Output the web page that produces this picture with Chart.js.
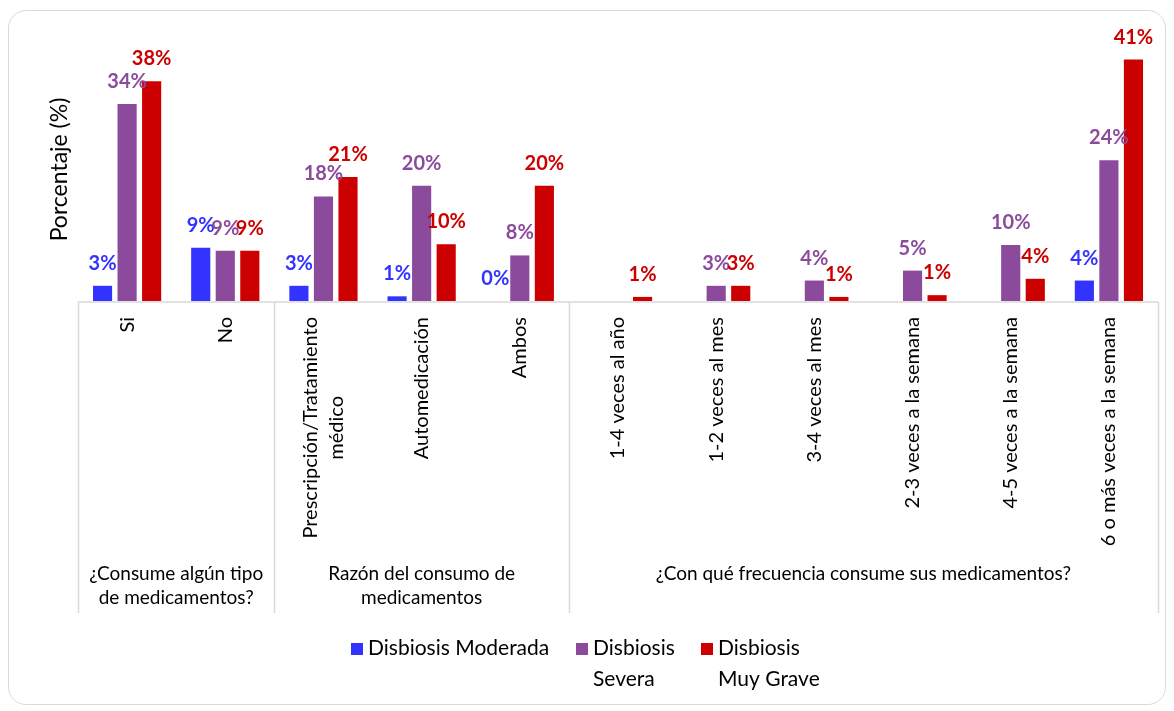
<!DOCTYPE html>
<html>
<head>
<meta charset="utf-8">
<script src="https://cdn.jsdelivr.net/npm/chart.js@4/dist/chart.umd.min.js"></script>
<style>
  html, body { margin: 0; background: #fff; }
  #wrap { position: relative; width: 1174px; height: 711px; }
  #wrap canvas { position: absolute; left: 0; top: 0; }
  #frame {
    position: absolute; left: 8px; top: 10px; width: 1156px; height: 693px;
    border: 1.5px solid #d9d9d9; border-radius: 18px; pointer-events: none;
  }
</style>
</head>
<body>
<div id="wrap">
  <canvas id="chart" width="1174" height="711"></canvas>
  <div id="frame"></div>
</div>
<script>
const categories = [
  'Si', 'No',
  'Prescripción/Tratamiento médico', 'Automedicación', 'Ambos',
  '1-4 veces al año', '1-2 veces al mes', '3-4 veces al mes',
  '2-3 veces a la semana', '4-5 veces a la semana', '6 o más veces a la semana'
];
// how each category name is broken when drawn vertically
const tickLabels = [
  ['Si'], ['No'],
  ['Prescripción/Tratamiento', 'médico'], ['Automedicación'], ['Ambos'],
  ['1-4 veces al año'], ['1-2 veces al mes'], ['3-4 veces al mes'],
  ['2-3 veces a la semana'], ['4-5 veces a la semana'], ['6 o más veces a la semana']
];
const groupLabels = [
  ['¿Consume algún tipo', 'de medicamentos?'],
  ['Razón del consumo de', 'medicamentos'],
  ['¿Con qué frecuencia consume sus medicamentos?']
];
const groupSizes = [2, 3, 6];

const seriesNames = ['Disbiosis Moderada', 'Disbiosis Severa', 'Disbiosis Muy Grave'];
const legendLines = [['Disbiosis Moderada'], ['Disbiosis', 'Severa'], ['Disbiosis', 'Muy Grave']];
const seriesColors = ['#3333ff', '#8b4a9c', '#cc0000'];

// percentages
const moderada = [2.6, 9.1, 2.6, 0.8, 0, null, null, null, null, null, 3.5];
const severa   = [33.7, 8.6, 17.9, 19.7, 7.8, null, 2.6, 3.5, 5.2, 9.6, 24.1];
const muyGrave = [37.6, 8.6, 21.2, 9.7, 19.7, 0.7, 2.6, 0.7, 1.0, 3.8, 41.3];

const FONT = 'Lato, "Open Sans", sans-serif';
const GRID = '#d9d9d9';

const extras = {
  id: 'extras',
  afterDatasetsDraw(chart) {
    const ctx = chart.ctx;
    ctx.save();
    ctx.font = `bold 20px ${FONT}`;
    ctx.textAlign = 'center';
    ctx.textBaseline = 'alphabetic';
    chart.data.datasets.forEach((ds, di) => {
      const meta = chart.getDatasetMeta(di);
      ctx.fillStyle = ds.backgroundColor;
      ds.data.forEach((v, i) => {
        if (v === null) return;
        const bar = meta.data[i];
        ctx.fillText(Math.round(v) + '%', bar.x, bar.y - 16);
      });
    });
    ctx.restore();
  },
  afterDraw(chart) {
    const { ctx, chartArea: area, scales: { x } } = chart;
    const step = (area.right - area.left) / categories.length;
    const lineBottom = 613;
    ctx.save();

    // category axis line and group separators
    ctx.strokeStyle = GRID;
    ctx.lineWidth = 1.5;
    ctx.beginPath();
    ctx.moveTo(area.left, area.bottom + 1);
    ctx.lineTo(area.right, area.bottom + 1);
    let k = 0;
    const bounds = [0];
    groupSizes.forEach(n => { k += n; bounds.push(k); });
    bounds.forEach(b => {
      const px = Math.round(area.left + b * step) + 0.5;
      ctx.moveTo(px, area.bottom + 1);
      ctx.lineTo(px, lineBottom);
    });
    ctx.stroke();

    // vertical category names
    ctx.fillStyle = '#000';
    ctx.font = `20px ${FONT}`;
    ctx.textBaseline = 'middle';
    ctx.textAlign = 'center';
    tickLabels.forEach((lines, i) => {
      const cx = x.getPixelForValue(i);
      const w = Math.max(...lines.map(l => ctx.measureText(l).width));
      ctx.save();
      ctx.translate(cx, area.bottom + 16);
      ctx.rotate(-Math.PI / 2);
      lines.forEach((l, j) => {
        ctx.fillText(l, -w / 2, (j - (lines.length - 1) / 2) * 26);
      });
      ctx.restore();
    });

    // group captions
    ctx.font = `19px ${FONT}`;
    groupLabels.forEach((lines, g) => {
      const cx = area.left + (bounds[g] + bounds[g + 1]) / 2 * step;
      lines.forEach((l, j) => ctx.fillText(l, cx, 574 + j * 24));
    });

    // value axis title
    ctx.font = `23px ${FONT}`;
    ctx.save();
    ctx.translate(60, (area.top + area.bottom) / 2);
    ctx.rotate(-Math.PI / 2);
    ctx.fillText('Porcentaje (%)', 0, 0);
    ctx.restore();

    // legend
    const legendX = [351, 576, 701];
    ctx.font = `21px ${FONT}`;
    ctx.textAlign = 'left';
    ctx.textBaseline = 'alphabetic';
    legendLines.forEach((lines, i) => {
      ctx.fillStyle = seriesColors[i];
      ctx.fillRect(legendX[i], 643, 12, 12);
      ctx.fillStyle = '#000';
      lines.forEach((l, j) => ctx.fillText(l, legendX[i] + 17, 655 + j * 31));
    });

    ctx.restore();
  }
};

new Chart(document.getElementById('chart'), {
  type: 'bar',
  data: {
    labels: categories,
    datasets: [moderada, severa, muyGrave].map((d, i) => ({
      label: seriesNames[i],
      data: d,
      backgroundColor: seriesColors[i],
      categoryPercentage: 0.75,
      barPercentage: 0.78
    }))
  },
  options: {
    responsive: false,
    animation: false,
    layout: { padding: { left: 78, right: 16, top: 38, bottom: 410 } },
    plugins: { legend: { display: false }, tooltip: { enabled: false } },
    scales: {
      x: { display: false },
      y: { display: false, min: 0, max: 45 }
    }
  },
  plugins: [extras]
});
</script>
</body>
</html>
